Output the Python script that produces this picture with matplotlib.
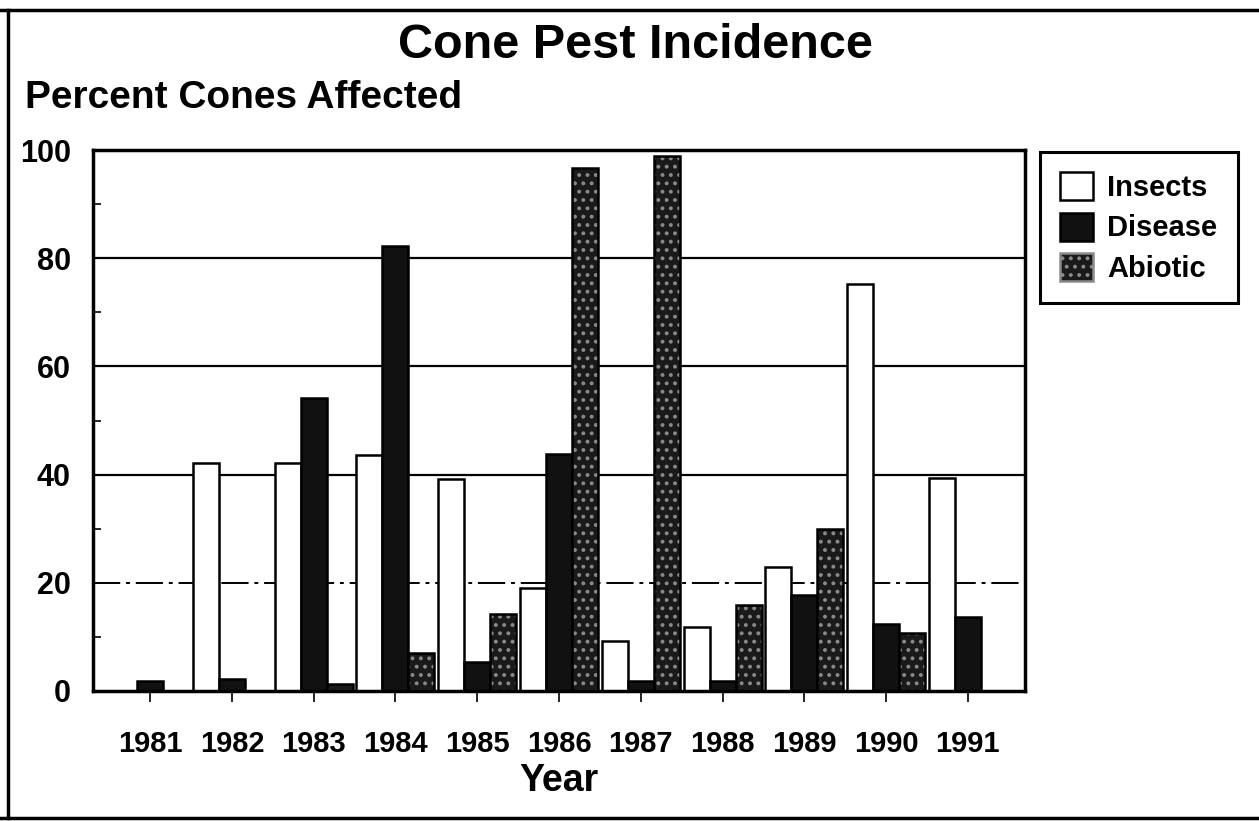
import matplotlib

matplotlib.use("Agg")
import matplotlib.pyplot as plt
import numpy as np
from matplotlib.lines import Line2D
from matplotlib.patches import Patch

years = ["1981", "1982", "1983", "1984", "1985", "1986", "1987", "1988", "1989", "1990", "1991"]
insects = [0, 42.2, 42.2, 43.6, 39.2, 19.1, 9.2, 11.8, 23.0, 75.2, 39.3]
disease = [1.8, 2.3, 54.1, 82.3, 5.4, 43.9, 1.9, 1.8, 17.8, 12.4, 13.6]
abiotic = [0, 0, 1.3, 7.1, 14.3, 96.6, 98.9, 15.9, 30.0, 10.8, 0]

plt.rcParams["font.family"] = ["Liberation Sans", "DejaVu Sans"]
plt.rcParams["font.weight"] = "bold"
plt.rcParams["hatch.linewidth"] = 1.6

fig = plt.figure(figsize=(12.59, 8.21), dpi=100)
ax = fig.add_axes([93 / 1259, 1 - 691 / 821, (1025 - 93) / 1259, (691 - 150) / 821])

x = np.arange(len(years))
w = 0.318

for y in (40, 60, 80):
    ax.axhline(y, color="black", lw=1.6, zorder=1)
ax.axhline(20, color="black", lw=1.4, ls=(0, (14, 3, 2, 3)), zorder=1)

ax.bar(x - w, insects, w, facecolor="white", edgecolor="black", lw=1.8, zorder=2)
ax.bar(x, disease, w, facecolor="#111111", edgecolor="black", lw=1.8, zorder=2)
ax.bar(x + w, abiotic, w, facecolor="#1a1a1a", edgecolor="#8a8a8a", hatch="..", lw=0, zorder=2)
ax.bar(x + w, abiotic, w, fill=False, edgecolor="black", lw=1.8, zorder=3)

ax.set_xlim(-0.7, len(years) - 1 + 0.7)
ax.set_ylim(0, 100)
ax.set_xticks(x)
ax.set_xticklabels(years, fontsize=21)
ax.set_yticks([0, 20, 40, 60, 80, 100])
ax.set_yticklabels(["0", "20", "40", "60", "80", "100"], fontsize=22)
ax.set_yticks(np.arange(10, 100, 20), minor=True)
ax.tick_params(axis="x", direction="out", length=8, width=1.2, pad=20)
ax.tick_params(axis="y", which="major", length=0, pad=16)
ax.tick_params(axis="y", which="minor", direction="in", length=6, width=1.2)
for s in ax.spines.values():
    s.set_linewidth(2.5)

ax.set_xlabel("Year", fontsize=27, fontweight="bold", labelpad=4)

fig.text(635 / 1259, 1 - 45 / 821, "Cone Pest Incidence", fontsize=35, ha="center", va="center")
fig.text(25 / 1259, 1 - 98 / 821, "Percent Cones Affected", fontsize=28, ha="left", va="center")

handles = [
    Patch(facecolor="white", edgecolor="black", lw=1.8, label="Insects"),
    Patch(facecolor="#111111", edgecolor="black", lw=1.8, label="Disease"),
    Patch(facecolor="#1a1a1a", edgecolor="#8a8a8a", hatch="..", lw=1.8, label="Abiotic"),
]
leg = fig.legend(
    handles=handles,
    loc="upper left",
    bbox_to_anchor=(1040 / 1259, 1 - 152 / 821),
    borderaxespad=0,
    fontsize=21,
    frameon=True,
    framealpha=1,
    fancybox=False,
    edgecolor="black",
    handlelength=1.1,
    handleheight=1.1,
    handletextpad=0.5,
    borderpad=0.7,
    labelspacing=0.35,
)
leg.get_frame().set_linewidth(2.2)

# page border from the scan: top, left and bottom only
for xs, ys in [((0, 1), (1 - 10 / 821,) * 2), ((8 / 1259,) * 2, (3 / 821, 1 - 10 / 821)), ((0, 1), (3 / 821,) * 2)]:
    fig.add_artist(Line2D(xs, ys, transform=fig.transFigure, color="black", lw=2.5))

fig.savefig("out.png", dpi=100)
